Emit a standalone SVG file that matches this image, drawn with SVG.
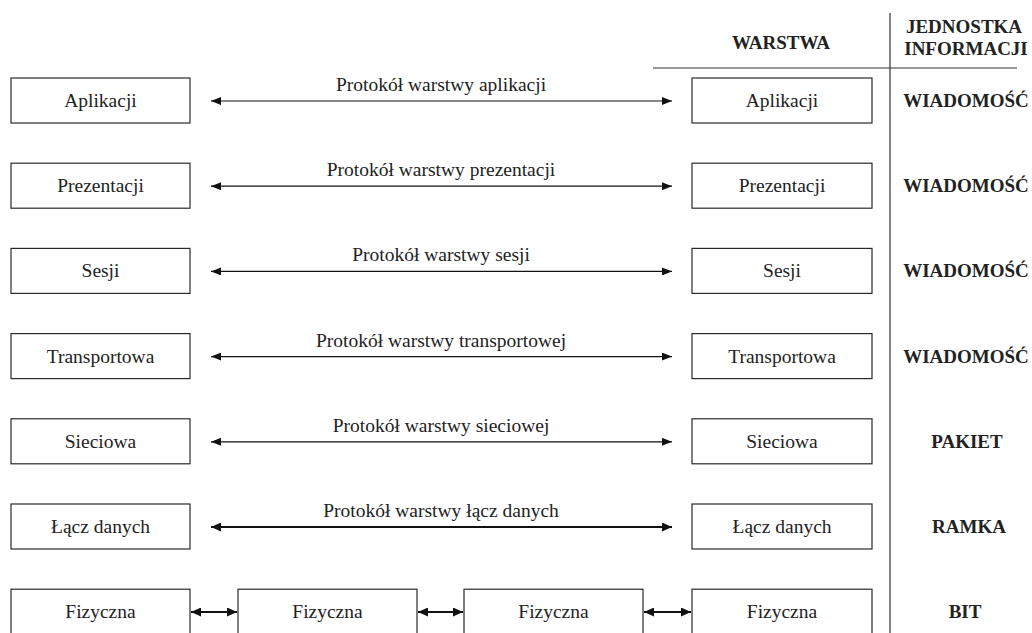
<svg xmlns="http://www.w3.org/2000/svg" width="1032" height="633" viewBox="0 0 1032 633">
  <style>
    .box { fill: #fff; stroke: #2a2a2a; stroke-width: 1.2; }
    .lbl { font-family: "Liberation Serif", "DejaVu Serif", "Noto Serif", serif; font-size: 19.5px; fill: #222; text-anchor: middle; }
    .unit { font-family: "Liberation Serif", "DejaVu Serif", "Noto Serif", serif; font-size: 19px; font-weight: bold; fill: #222; text-anchor: middle; }
    .rule { stroke: #333; stroke-width: 1.2; fill: none; }
    .thin { stroke: #111; stroke-width: 1.2; fill: none; marker-start: url(#head); marker-end: url(#head); }
    .thick { stroke: #111; stroke-width: 2.2; fill: none; marker-start: url(#headB); marker-end: url(#headB); }
  </style>
  <defs>
    <marker id="head" viewBox="0 0 10 8" refX="10" refY="4" markerWidth="10" markerHeight="8" markerUnits="userSpaceOnUse" orient="auto-start-reverse">
      <path d="M0,0 L10,4 L0,8 z" fill="#111"/>
    </marker>
    <marker id="headB" viewBox="0 0 10 9" refX="10" refY="4.5" markerWidth="10" markerHeight="9" markerUnits="userSpaceOnUse" orient="auto-start-reverse">
      <path d="M0,0 L10,4.5 L0,9 z" fill="#111"/>
    </marker>
  </defs>

  <rect width="1032" height="633" fill="#fff"/>

  <!-- table header and column divider -->
  <g id="header">
    <line class="rule" x1="890" y1="13" x2="890" y2="633"/>
    <line class="rule" x1="653" y1="68" x2="1017" y2="68"/>
    <text class="unit" x="781" y="49">WARSTWA</text>
    <text class="unit" x="964" y="33">JEDNOSTKA</text>
    <text class="unit" x="966" y="55">INFORMACJI</text>
  </g>

  <!-- left stack -->
  <g id="left-aplikacji"><rect class="box" x="11" y="78" width="179" height="45"/><text class="lbl" x="100.5" y="107">Aplikacji</text></g>
  <g id="left-prezentacji"><rect class="box" x="11" y="163.2" width="179" height="45"/><text class="lbl" x="100.5" y="192.2">Prezentacji</text></g>
  <g id="left-sesji"><rect class="box" x="11" y="248.4" width="179" height="45"/><text class="lbl" x="100.5" y="277.4">Sesji</text></g>
  <g id="left-transportowa"><rect class="box" x="11" y="333.6" width="179" height="45"/><text class="lbl" x="100.5" y="362.6">Transportowa</text></g>
  <g id="left-sieciowa"><rect class="box" x="11" y="418.8" width="179" height="45"/><text class="lbl" x="100.5" y="447.8">Sieciowa</text></g>
  <g id="left-lacz"><rect class="box" x="11" y="504" width="179" height="45"/><text class="lbl" x="100.5" y="533">Łącz danych</text></g>
  <g id="phys-1"><rect class="box" x="11" y="589.2" width="179" height="45"/><text class="lbl" x="100.5" y="618">Fizyczna</text></g>

  <!-- physical relay nodes -->
  <g id="phys-2"><rect class="box" x="238" y="589.2" width="179" height="45"/><text class="lbl" x="327.5" y="618">Fizyczna</text></g>
  <g id="phys-3"><rect class="box" x="464" y="589.2" width="179" height="45"/><text class="lbl" x="553.5" y="618">Fizyczna</text></g>

  <!-- right stack -->
  <g id="right-aplikacji"><rect class="box" x="692" y="78" width="180" height="45"/><text class="lbl" x="782" y="107">Aplikacji</text></g>
  <g id="right-prezentacji"><rect class="box" x="692" y="163.2" width="180" height="45"/><text class="lbl" x="782" y="192.2">Prezentacji</text></g>
  <g id="right-sesji"><rect class="box" x="692" y="248.4" width="180" height="45"/><text class="lbl" x="782" y="277.4">Sesji</text></g>
  <g id="right-transportowa"><rect class="box" x="692" y="333.6" width="180" height="45"/><text class="lbl" x="782" y="362.6">Transportowa</text></g>
  <g id="right-sieciowa"><rect class="box" x="692" y="418.8" width="180" height="45"/><text class="lbl" x="782" y="447.8">Sieciowa</text></g>
  <g id="right-lacz"><rect class="box" x="692" y="504" width="180" height="45"/><text class="lbl" x="782" y="533">Łącz danych</text></g>
  <g id="phys-4"><rect class="box" x="692" y="589.2" width="180" height="45"/><text class="lbl" x="782" y="618">Fizyczna</text></g>

  <!-- information unit per layer -->
  <g id="units">
    <text class="unit" x="966" y="107">WIADOMOŚĆ</text>
    <text class="unit" x="966" y="192.2">WIADOMOŚĆ</text>
    <text class="unit" x="966" y="277.4">WIADOMOŚĆ</text>
    <text class="unit" x="966" y="362.6">WIADOMOŚĆ</text>
    <text class="unit" x="967" y="447.8">PAKIET</text>
    <text class="unit" x="969" y="533">RAMKA</text>
    <text class="unit" x="965" y="618">BIT</text>
  </g>

  <!-- peer protocol connectors -->
  <g id="connectors">
    <line class="thin" x1="211" y1="101" x2="672" y2="101"/>
    <text class="lbl" x="441" y="91">Protokół warstwy aplikacji</text>
    <line class="thin" x1="211" y1="186.2" x2="672" y2="186.2"/>
    <text class="lbl" x="441" y="176.2">Protokół warstwy prezentacji</text>
    <line class="thin" x1="211" y1="271.4" x2="672" y2="271.4"/>
    <text class="lbl" x="441" y="261.4">Protokół warstwy sesji</text>
    <line class="thin" x1="211" y1="356.6" x2="672" y2="356.6"/>
    <text class="lbl" x="441" y="346.6">Protokół warstwy transportowej</text>
    <line class="thin" x1="211" y1="441.8" x2="672" y2="441.8"/>
    <text class="lbl" x="441" y="431.8">Protokół warstwy sieciowej</text>
    <line class="thick" x1="211" y1="527" x2="672" y2="527"/>
    <text class="lbl" x="441" y="517">Protokół warstwy łącz danych</text>
    <line class="thick" x1="191" y1="612" x2="237" y2="612"/>
    <line class="thick" x1="418" y1="612" x2="463" y2="612"/>
    <line class="thick" x1="644" y1="612" x2="691" y2="612"/>
  </g>
</svg>
